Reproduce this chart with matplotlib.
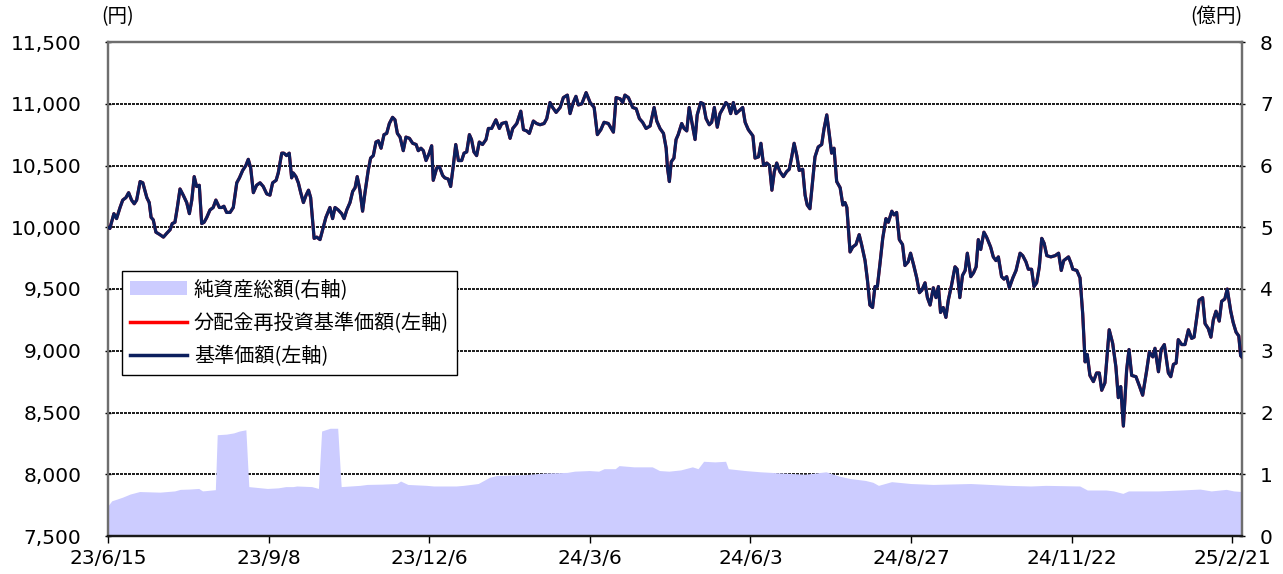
import matplotlib
matplotlib.use("Agg")
import matplotlib.pyplot as plt
from matplotlib.patches import Patch
from matplotlib.lines import Line2D

plt.rcParams['font.family'] = ['DejaVu Sans', 'Noto Sans CJK JP']

# ---------------- data ----------------
# x = trading-day offset from 2023/6/15, y = 基準価額 (円)
nav_readings = [
    (0.0,10000),(0.7,9990),(2.2,10110),(3.2,10070),(4.5,10160),(5.5,10220),(6.7,10240),(7.7,10280),(8.8,10220),(9.8,10190),
    (10.7,10220),(12.0,10370),(13.0,10360),(14.5,10240),(15.4,10200),(16.1,10080),(16.9,10060),(17.9,9960),(19.4,9940),(20.7,9920),
    (21.9,9950),(23.2,9980),(24.0,10030),(25.0,10040),(25.9,10160),(26.9,10310),(28.1,10260),(29.4,10200),(30.4,10110),(31.3,10220),
    (32.2,10410),(33.1,10330),(34.1,10340),(35.0,10030),(35.9,10040),(36.9,10080),(38.1,10140),(39.3,10160),(40.3,10220),(41.6,10160),
    (42.5,10160),(43.3,10170),(44.3,10120),(45.6,10120),(46.8,10160),(48.1,10360),(49.1,10400),(50.3,10460),(51.5,10500),(52.4,10550),
    (53.3,10480),(54.3,10280),(55.5,10340),(56.8,10360),(58.0,10330),(59.3,10270),(60.5,10260),(61.5,10360),(62.8,10380),(63.6,10440),
    (64.9,10600),(65.7,10600),(66.7,10580),(67.7,10600),(68.6,10400),(69.2,10440),(70.2,10410),(71.1,10360),(72.0,10280),(73.0,10200),
    (74.0,10260),(74.9,10300),(75.7,10240),(77.0,9910),(78.0,9920),(79.2,9900),(80.4,10000),(81.4,10080),(82.9,10160),(83.9,10070),
    (84.8,10160),(86.0,10140),(87.3,10110),(88.2,10070),(89.2,10140),(90.4,10200),(91.4,10290),(92.3,10320),(93.1,10410),(94.1,10300),
    (95.1,10130),(96.0,10280),(97.2,10460),(98.1,10560),(99.1,10580),(100.1,10690),(101.0,10700),(102.0,10640),(103.1,10750),(104.1,10760),
    (105.1,10840),(106.3,10890),(107.2,10870),(108.1,10760),(109.1,10730),(110.3,10620),(111.3,10730),(112.6,10720),(113.8,10680),(115.1,10670),
    (115.9,10620),(116.9,10640),(117.8,10620),(118.8,10540),(120.0,10600),(120.9,10660),(121.5,10380),(122.8,10480),(123.8,10490),(125.0,10420),
    (125.8,10400),(127.1,10390),(128.0,10330),(129.0,10500),(129.9,10670),(130.9,10540),(132.1,10540),(133.0,10600),(134.0,10610),(135.0,10750),
    (135.8,10710),(136.7,10610),(137.7,10580),(138.7,10690),(139.9,10670),(141.2,10710),(142.1,10800),(143.3,10800),(144.9,10870),(146.2,10800),
    (147.1,10840),(148.7,10850),(150.2,10720),(151.2,10800),(152.7,10840),(154.2,10940),(155.2,10790),(156.4,10780),(157.4,10760),(158.9,10860),
    (160.1,10840),(161.4,10830),(162.9,10840),(163.9,10880),(165.1,11010),(166.1,10970),(167.4,10930),(168.9,10970),(170.1,11050),(171.6,11070),
    (172.6,10920),(173.8,11010),(174.8,11060),(175.7,10990),(177.0,11000),(178.6,11090),(180.1,11010),(181.6,10970),(182.8,10750),(184.1,10790),
    (185.3,10850),(186.9,10840),(188.8,10770),(189.8,11050),(191.3,11040),(192.3,11010),(193.1,11070),(194.4,11050),(196.0,10970),(197.3,10960),
    (198.5,10880),(199.7,10850),(201.0,10800),(202.5,10820),(204.0,10970),(205.0,10860),(206.2,10800),(207.5,10760),(208.5,10640),(209.0,10480),
    (209.7,10370),(210.4,10530),(211.4,10560),(212.2,10710),(213.0,10750),(214.3,10840),(215.2,10800),(216.2,10780),(217.1,10970),(218.3,10830),
    (219.3,10710),(220.1,10910),(221.4,11010),(222.4,11000),(223.4,10880),(224.6,10830),(225.5,10850),(226.5,10970),(227.6,10810),(228.6,10920),
    (229.9,10970),(230.8,11010),(231.7,10990),(232.6,10920),(233.6,11010),(234.6,10920),(236.1,10950),(237.1,10970),(238.0,10850),(239.2,10790),
    (240.9,10740),(241.7,10560),(243.0,10570),(243.9,10680),(244.9,10500),(246.1,10520),(247.1,10500),(248.0,10300),(248.9,10450),(249.8,10520),
    (251.0,10450),(252.3,10410),(253.5,10450),(254.5,10470),(255.4,10570),(256.3,10680),(257.3,10580),(258.2,10460),(259.5,10470),(260.4,10260),
    (261.2,10180),(262.2,10150),(263.2,10370),(264.1,10570),(265.3,10650),(266.6,10670),(267.5,10800),(268.5,10910),(269.4,10760),(270.3,10600),
    (271.2,10640),(272.2,10370),(273.5,10320),(274.5,10180),(275.3,10200),(276.0,10160),(277.2,9800),(278.2,9840),(279.4,9860),(280.6,9940),
    (281.5,9860),(282.8,9730),(283.7,9570),(284.6,9370),(285.6,9350),(286.5,9520),(287.4,9520),(288.4,9710),(289.4,9910),(290.6,10070),
    (291.5,10040),(292.8,10130),(293.6,10100),(294.6,10120),(295.6,9900),(296.8,9860),(297.7,9690),(298.9,9720),(299.8,9790),(301.0,9690),
    (302.1,9590),(303.1,9470),(304.0,9490),(305.2,9550),(306.1,9430),(307.1,9370),(308.3,9510),(309.3,9430),(310.2,9520),(311.0,9310),
    (312.0,9350),(313.0,9270),(313.9,9410),(315.1,9530),(316.4,9680),(317.2,9660),(318.2,9430),(319.2,9610),(320.2,9650),(321.0,9790),
    (322.3,9600),(323.3,9630),(324.3,9680),(325.1,9900),(326.0,9820),(327.2,9960),(328.2,9920),(329.7,9840),(330.7,9760),(331.7,9730),
    (332.6,9760),(333.8,9600),(334.7,9580),(335.7,9600),(336.7,9510),(338.0,9590),(339.2,9650),(340.7,9790),(341.7,9770),(342.9,9720),
    (343.8,9660),(345.0,9660),(345.9,9520),(346.9,9550),(347.9,9680),(348.8,9910),(349.7,9870),(350.7,9770),(352.2,9760),(353.8,9770),
    (355.1,9790),(356.1,9650),(357.0,9730),(358.8,9760),(359.7,9710),(360.4,9660),(361.9,9650),(363.1,9590),(364.1,9300),(365.0,8910),
    (365.8,8970),(366.8,8800),(368.1,8750),(369.3,8820),(370.3,8820),(371.2,8680),(372.4,8740),(374.0,9170),(375.3,9060),(376.5,8870),
    (377.4,8620),(378.3,8710),(379.3,8390),(380.5,8840),(381.4,9010),(382.4,8800),(384.0,8790),(385.2,8720),(386.5,8640),(388.0,8840),
    (389.0,8990),(390.3,8950),(391.1,9020),(392.4,8830),(393.4,9010),(394.6,9050),(396.1,8820),(397.0,8790),(398.0,8890),(399.0,8900),
    (399.8,9090),(401.1,9050),(402.3,9050),(403.6,9170),(404.8,9100),(405.7,9110),(406.7,9270),(407.6,9410),(408.9,9430),(409.8,9220),
    (411.0,9180),(412.0,9110),(412.9,9250),(413.9,9320),(415.1,9240),(416.0,9400),(417.2,9420),(418.1,9500),(419.4,9320),(420.3,9230),
    (421.4,9150),(422.4,9120),(423.1,8960),(423.5,8950),
]
nav_day = [d for d, v in nav_readings]
nav_value = [v for d, v in nav_readings]
# 分配金再投資基準価額: no distributions -> same as 基準価額
reinvest_value = list(nav_value)

# 純資産総額 (億円)
aum_readings = [
    (0,0.49),(1.4,0.57),(3.5,0.60),(5.5,0.63),(8.3,0.68),(11.8,0.72),(19.4,0.71),(24.9,0.73),(27,0.755),(30.4,0.76),
    (33.9,0.77),(35.3,0.73),(40.1,0.75),(40.8,1.64),(44.3,1.65),(47,1.67),(49.1,1.70),(51.5,1.72),(52.6,0.80),(59.5,0.77),
    (63.6,0.78),(66.4,0.80),(69.2,0.80),(70.5,0.81),(76.1,0.80),(78.6,0.77),(79.8,1.70),(83,1.745),(85.8,1.745),(87.1,0.80),
    (94.1,0.82),(96.8,0.835),(102.4,0.84),(107.9,0.85),(109.3,0.89),(112,0.835),(119,0.82),(121.7,0.81),(130,0.81),(132.8,0.82),
    (138.3,0.85),(142.5,0.95),(145.2,0.98),(156.3,0.995),(163.2,1.02),(171.5,1.03),(174.3,1.05),(179.8,1.06),(183.3,1.05),(185.3,1.09),
    (189.5,1.09),(190.9,1.14),(196.4,1.12),(203.3,1.12),(206,1.06),(209.5,1.05),(213.9,1.07),(218.3,1.12),(220.4,1.09),(222.5,1.21),
    (226.7,1.20),(230.7,1.21),(231.7,1.09),(238,1.06),(243.6,1.04),(252,1.02),(260.4,1.0),(268.2,1.04),(273.1,0.97),(277.3,0.93),
    (282.9,0.90),(285.7,0.87),(287.8,0.82),(292.7,0.88),(299.8,0.85),(308.2,0.835),(322.2,0.85),(336.3,0.82),(344.7,0.81),(350.3,0.82),
    (363,0.81),(365.8,0.745),(372.8,0.745),(375.6,0.73),(379.1,0.69),(381.2,0.73),(392.4,0.73),(400.8,0.745),(407.9,0.76),(412.1,0.73),
    (417.7,0.755),(420.5,0.73),(423.5,0.72),
]
aum_day = [d for d, v in aum_readings]
aum_value = [v for d, v in aum_readings]

tick_days = [0, 60, 120, 180, 240, 300, 360, 420]
tick_labels = ['23/6/15', '23/9/8', '23/12/6', '24/3/6', '24/6/3', '24/8/27', '24/11/22', '25/2/21']
left_ticks = [7500, 8000, 8500, 9000, 9500, 10000, 10500, 11000, 11500]
right_ticks = [0, 1, 2, 3, 4, 5, 6, 7, 8]
legend_labels = ['純資産総額(右軸)', '分配金再投資基準価額(左軸)', '基準価額(左軸)']

# ---------------- figure ----------------
W, H = 1283, 574
fig = plt.figure(figsize=(W / 100, H / 100), dpi=100)
L, R, T, B = 108, 1242, 42, 536
ax = fig.add_axes([L / W, 1 - B / H, (R - L) / W, (B - T) / H])
ax2 = ax.twinx()
ax.set_zorder(ax2.get_zorder() + 1)
ax.patch.set_visible(False)

AREA = '#ccccff'
NAVY = '#0c1f5e'
FS = 14.5
jp = {'family': ['Noto Sans CJK JP', 'DejaVu Sans']}

# horizontal gridlines (behind the area), area on the right axis
for t in right_ticks[1:-1]:
    ax2.axhline(t, color='#222222', linestyle=(0, (1.5, 1.0)), linewidth=1.1,
                antialiased=False, zorder=1)
ax2.fill_between(aum_day, aum_value, 0, color=AREA, linewidth=0, zorder=2)
ax2.set_ylim(0, 8)
ax2.set_yticks(right_ticks)

# lines on left axis
ax.plot(nav_day, reinvest_value, color='red', linewidth=2.2, zorder=3)
ax.plot(nav_day, nav_value, color=NAVY, linewidth=2.3, zorder=4)
ax.set_ylim(7500, 11500)
ax.set_yticks(left_ticks)
ax.set_yticklabels([f'{v:,}' for v in left_ticks])
ax.set_xlim(0, (R - L) / 2.677)
ax.set_xticks(tick_days)
ax.set_xticklabels(tick_labels)

ax.tick_params(axis='y', direction='inout', length=4, pad=17, labelsize=FS, width=1)
ax.tick_params(axis='x', direction='out', length=5, pad=4.5, labelsize=FS, width=1)
ax2.tick_params(axis='y', direction='inout', length=4, pad=11, labelsize=FS, width=1)

for a in (ax, ax2):
    for s in a.spines.values():
        s.set_color('#6e6e6e')
        s.set_linewidth(1.6)
    a.spines['bottom'].set_color('#1a1a1a')

fig.text(118 / W, 1 - 17 / H, '(円)', ha='center', va='center', fontsize=14, **jp)
fig.text(1216 / W, 1 - 17 / H, '(億円)', ha='center', va='center', fontsize=14, **jp)

handles = [Patch(facecolor=AREA, edgecolor='none'),
           Line2D([], [], color='red', linewidth=2.5),
           Line2D([], [], color=NAVY, linewidth=2.5)]
leg = ax.legend(handles, legend_labels, loc='upper left',
                bbox_to_anchor=((122 - L) / (R - L), (B - 271) / (B - T)),
                borderaxespad=0, frameon=True, fancybox=False, framealpha=1,
                edgecolor='black', prop={'family': ['Noto Sans CJK JP', 'DejaVu Sans'], 'size': FS},
                handlelength=2.8, handletextpad=0.35, labelspacing=0.6, borderpad=0.42)
leg.get_frame().set_linewidth(1.0)

fig.savefig('out.png', dpi=100)
